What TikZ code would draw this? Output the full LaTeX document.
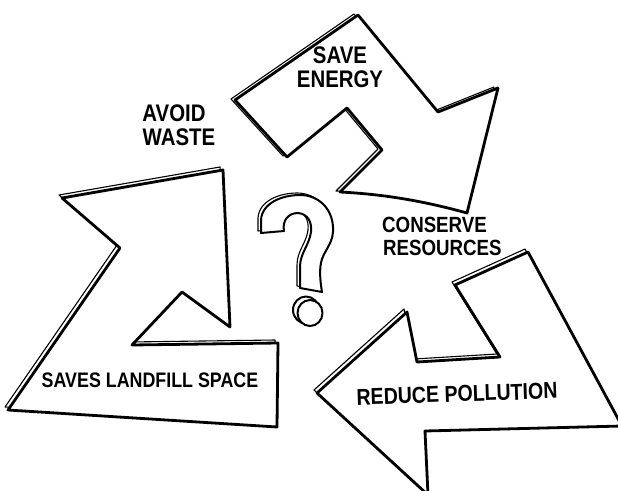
\documentclass[tikz,border=0pt]{standalone}
\usepackage{fontspec}
\setmainfont[FakeStretch=0.85]{Liberation Sans}
\newcommand\TopArrowPath{(235,100) -- (358,15) -- (438,112) -- (498,88) -- (467,213) .. controls (420,200) and (380,194) .. (340,192) -- (382,150) -- (347,108) -- (287,157) -- cycle}
\newcommand\LeftArrowPath{(8,410) -- (120,248) -- (62,198) -- (223,170) -- (230,327) -- (182,292) -- (132,345) -- (278,343) -- (277,427) -- cycle}
\newcommand\BottomArrowPath{(317,393) -- (407,312) -- (417,362) -- (500,357) -- (455,285) -- (528,252) -- (622,426) -- (425,431) -- (428,495) -- cycle}
\newcommand\QuestionPath{(261,233) -- (284,231) .. controls (282,221) and (288,213) .. (298,213) .. controls (308,214) and (312,222) .. (311,232) .. controls (309,246) and (300,253) .. (300,267) -- (300,288) -- (322,292) .. controls (320,280) and (319,268) .. (322,259) .. controls (326,248) and (334,242) .. (333,227) .. controls (332,208) and (318,195) .. (300,195) .. controls (282,195) and (262,203) .. (261,220) -- cycle}
\begin{document}
\begin{tikzpicture}[x=1pt,y=-1pt,
  front/.style={draw=black,line width=2.8pt,line join=round,fill=white},
  back/.style={draw=black,line width=1.1pt,line join=round,fill=white},
  lbl/.style={inner sep=0pt,text=black,font=\fontsize{24}{24}\selectfont\bfseries}]
\useasboundingbox (0,0) rectangle (618,490);
\fill[white] (0,0) rectangle (618,490);
\clip (0,0) rectangle (618,490);
% top arrow
\draw[back,shift={(-4,-1)}] \TopArrowPath;
\draw[front] \TopArrowPath;
% left arrow
\draw[back,shift={(-3,-3)}] \LeftArrowPath;
\draw[front] \LeftArrowPath;
% bottom arrow
\draw[back,shift={(-3,-3)}] \BottomArrowPath;
\draw[front] \BottomArrowPath;
% question mark
\draw[back,shift={(-3,-2)}] \QuestionPath;
\draw[front,line width=2pt] \QuestionPath;
\draw[back,line width=2pt] (306,310) ellipse[x radius=13,y radius=13.5];
\draw[front,line width=2pt] (310,313) ellipse[x radius=12.5,y radius=13];
% labels
\node[lbl] (save) at (340,55) {SAVE};
\node[lbl] (energy) at (340,79) {ENERGY};
\node[lbl] (avoid) at (174,113) {AVOID};
\node[lbl] (waste) at (179,137) {WASTE};
\node[lbl,anchor=west,font=\fontsize{22}{22}\selectfont\bfseries] (conserve) at (382,225) {CONSERVE};
\node[lbl,anchor=west,font=\fontsize{22}{22}\selectfont\bfseries] (resources) at (383,248) {RESOURCES};
\node[lbl,rotate=2,font=\fontsize{23}{22}\selectfont\bfseries] (reduce) at (457,394) {REDUCE POLLUTION};
\node[lbl,font=\fontsize{21}{22}\selectfont\bfseries] (saves) at (150,380) {SAVES LANDFILL SPACE};
\end{tikzpicture}
\end{document}
